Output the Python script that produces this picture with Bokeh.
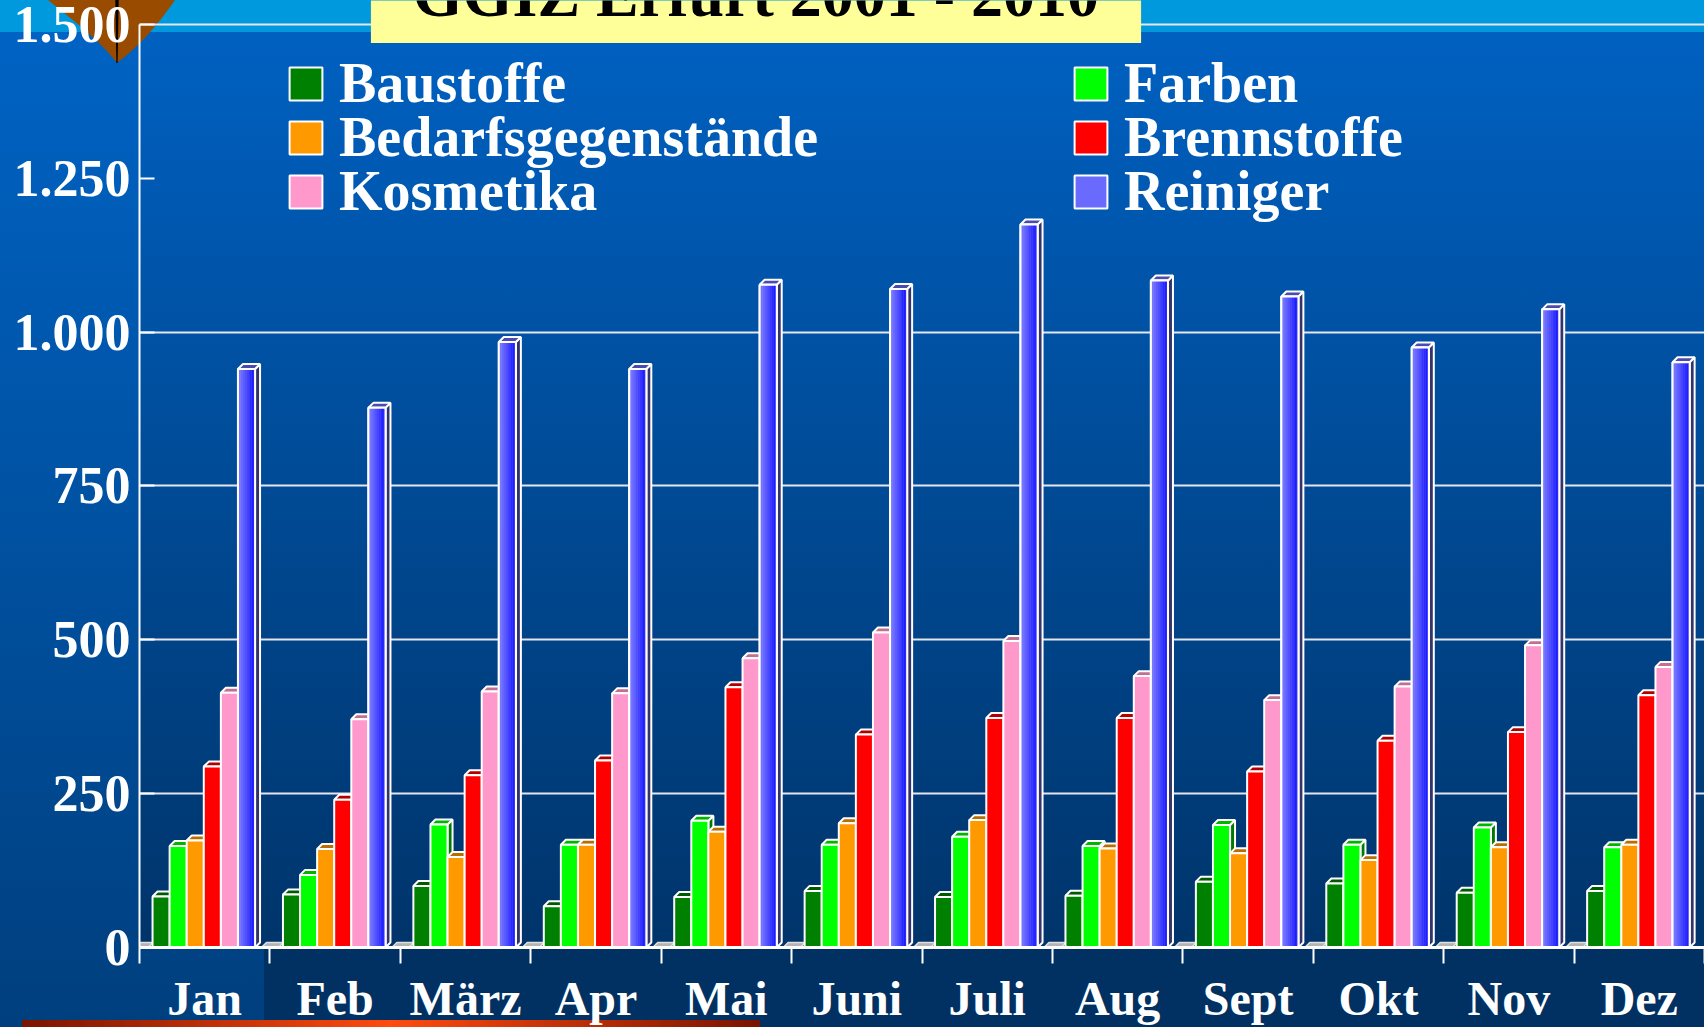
import numpy as np
from urllib.parse import quote
from bokeh.plotting import figure
from bokeh.models import Range1d, FixedTicker, Legend, LegendItem, Label
from bokeh.embed import file_html
from bokeh.resources import INLINE

# ---------------- data ----------------
months = ["Jan", "Feb", "März", "Apr", "Mai", "Juni", "Juli", "Aug", "Sept", "Okt", "Nov", "Dez"]
baustoffe = [83, 86, 100, 67, 82, 92, 82, 84, 107, 104, 89, 92]
farben = [165, 118, 200, 167, 206, 167, 180, 165, 199, 167, 195, 163]
bedarfsgegenstaende = [174, 160, 147, 167, 188, 202, 207, 161, 153, 142, 163, 167]
brennstoffe = [294, 240, 280, 304, 423, 346, 373, 373, 286, 336, 350, 410]
kosmetika = [414, 371, 416, 413, 470, 512, 498, 441, 402, 424, 491, 456]
reiniger = [940, 877, 984, 940, 1077, 1070, 1175, 1084, 1058, 975, 1037, 951]
leer = [0, 0, 0, 0, 0, 0, 0, 0, 0, 0, 0, 0]   # flat grey (empty) series at each month start

series_names = ["Baustoffe", "Farben", "Bedarfsgegenstände", "Brennstoffe", "Kosmetika", "Reiniger"]
series_values = [baustoffe, farben, bedarfsgegenstaende, brennstoffe, kosmetika, reiniger]

y_ticks = [0, 250, 500, 750, 1000, 1250, 1500]
y_tick_labels = ["0", "250", "500", "750", "1.000", "1.250", "1.500"]
y_grid = [250, 500, 750, 1000, 1500]
y_max = 1500
title_text = "GGIZ Erfurt 2001 - 2010"

# ---------------- styles ----------------
front_colors = ["#008000", "#00FF00", "#FF9900", "#FF0000", "#FF99CC", "#6A6AFF"]
top_colors = ["#005A00", "#00B400", "#B86E00", "#B00000", "#C07090", "#4A4AB0"]
side_colors = ["#004400", "#007A00", "#8A5200", "#800000", "#905070", "#34346A"]
FONT = "Liberation Serif"

W, H = 1704, 1027
L, B = 139, 78            # left border, bottom border (frame starts at canvas top)
TOP_LINE = 24             # pixel row of the y_max grid line
FW, FH = W - L, H - B
NG = len(months)
GPX = FW / NG                          # pixels per month group
PPU = (FH - TOP_LINE) / y_max          # pixels per value unit
Y_END = y_max + TOP_LINE / PPU
DX = 5.0 / GPX                          # 3D depth in x (data units)
DY = 5.0 / PPU                          # 3D depth in y (data units)
OFF, BW = 0.10, 0.131                   # bar start offset in a group, bar width

p = figure(width=W, height=H, x_range=Range1d(0, NG), y_range=Range1d(0, Y_END),
           output_backend="svg", toolbar_location=None,
           min_border_left=L, min_border_right=0, min_border_top=0, min_border_bottom=B)
p.border_fill_color = None
p.background_fill_color = None
p.outline_line_color = None

svg = (f"<svg xmlns='http://www.w3.org/2000/svg' width='{W}' height='{H}'>"
       "<path d='M48,0 L175,0 C160,22 140,46 117,63 C100,40 70,18 48,0 Z' fill='#994C00'/>"
       "<path d='M115.3,0 L118.7,0 L117.6,63 L116.4,63 Z' fill='#000000'/></svg>")
uri = "data:image/svg+xml," + quote(svg)
bg = ", ".join([
    f'url("{uri}") 0 0 / {W}px {H}px no-repeat',
    "linear-gradient(to right, #7A1400, #FF4A10 50%, #7A1400) 22px 1020px / 738px 7px no-repeat",
    "linear-gradient(#0099DD, #0099DD) 0 0 / 100% 32px no-repeat",
    f"linear-gradient(to bottom, #0062C4, #00346A) {L}px 0 / {FW}px {FH}px no-repeat",
    f"linear-gradient(#003162, #003162) 264px {FH}px / {W - 264}px {B}px no-repeat",
    "linear-gradient(to bottom, #0064C6, #003F7E)",
])
p.styles = {"background": bg}

# ---------------- axes ----------------
xa = p.xaxis[0]
xa.ticker = FixedTicker(ticks=[g + 0.5 for g in range(NG)], minor_ticks=list(range(NG + 1)))
xa.major_label_overrides = {g + 0.5: m for g, m in enumerate(months)}
xa.major_tick_out = 0
xa.major_tick_in = 0
xa.minor_tick_out = 16
xa.minor_tick_in = 0
xa.minor_tick_line_color = "white"
xa.minor_tick_line_width = 2
xa.axis_line_color = "white"
xa.axis_line_width = 3
xa.major_label_text_font = FONT
xa.major_label_text_font_style = "bold"
xa.major_label_text_font_size = "48px"
xa.major_label_text_line_height = 1.0
xa.major_label_text_color = "white"
xa.major_label_standoff = 8

ya = p.yaxis[0]
ya.ticker = FixedTicker(ticks=y_ticks)
ya.bounds = (0, y_max)
ya.major_label_overrides = {t: s for t, s in zip(y_ticks, y_tick_labels)}
ya.major_tick_in = 15
ya.major_tick_out = 0
ya.major_tick_line_color = "white"
ya.major_tick_line_width = 2
ya.minor_tick_line_color = None
ya.axis_line_color = "white"
ya.axis_line_width = 2
ya.major_label_text_font = FONT
ya.major_label_text_font_style = "bold"
ya.major_label_text_font_size = "52px"
ya.major_label_text_line_height = 1.0
ya.major_label_text_color = "white"
ya.major_label_standoff = 9

p.xgrid.visible = False
p.ygrid.ticker = FixedTicker(ticks=y_grid)
p.ygrid.grid_line_color = "#E6E6F0"
p.ygrid.grid_line_width = 2

# ---------------- bars ----------------
groups = np.arange(NG, dtype=float)


def faces(left, right, vals):
    tops_x = [[l, l + DX, r + DX, r] for l, r in zip(left, right)]
    tops_y = [[v, v + DY, v + DY, v] for v in vals]
    side_x = [[r, r + DX, r + DX, r] for r in right]
    side_y = [[0, DY, v + DY, v] for v in vals]
    return tops_x, tops_y, side_x, side_y


# grey flat slab at the start of every month
lv = np.array(leer, dtype=float)
ll = groups - 0.065
lr = ll + BW
tx, ty, sx, sy = faces(ll, lr, lv)
p.patches(tx, ty, fill_color="#B4B4B4", line_color="#E0E0E0", line_width=1.5)
p.quad(left=ll, right=lr, bottom=lv, top=lv + 1.5, fill_color="#808080", line_color="#D0D0D0", line_width=1)

fronts = []
for i, (name, vals) in enumerate(zip(series_names, series_values)):
    v = np.array(vals, dtype=float)
    left = groups + OFF + i * BW
    right = left + BW
    tx, ty, sx, sy = faces(left, right, v)
    p.patches(sx, sy, fill_color=side_colors[i], line_color="white", line_width=2)
    p.patches(tx, ty, fill_color=top_colors[i], line_color="white", line_width=2)
    fr = p.quad(left=left, right=right, bottom=0, top=v, fill_color=front_colors[i],
                line_color="white", line_width=2)
    fronts.append(fr)
    if name == "Reiniger":
        n = 10
        c0 = np.array([0x82, 0x82, 0xFF], dtype=float)
        c1 = np.array([0x12, 0x12, 0xFF], dtype=float)
        for k in range(n):
            c = c0 + (c1 - c0) * k / (n - 1)
            col = "#%02X%02X%02X" % tuple(int(round(x)) for x in c)
            p.quad(left=left + BW * k / n, right=left + BW * (k + 1) / n, bottom=0, top=v,
                   fill_color=col, line_color=None)
        p.quad(left=left, right=right, bottom=0, top=v, fill_color=None,
               line_color="white", line_width=2)

# ---------------- legend (two columns, three rows) ----------------
ITEM_H = 64                      # measured height of one legend row
ROW_CENTERS = [85, 139, 193]     # pixel rows of the legend entries
COL_X = [146, 931]               # legend column offsets from the frame's left edge
legend_order = [[0, 2, 4], [1, 3, 5]]

for col, idx in enumerate(legend_order):
    for row, i in enumerate(idx):
        top = ROW_CENTERS[row] - ITEM_H / 2
        leg = Legend(items=[LegendItem(label=series_names[i], renderers=[fronts[i]])],
                     location=(COL_X[col], FH - top - ITEM_H), orientation="vertical",
                     glyph_width=41, glyph_height=41, label_standoff=13, spacing=0,
                     padding=0, margin=0,
                     label_text_font=FONT, label_text_font_style="bold",
                     label_text_font_size="56px", label_text_line_height=1.0,
                     label_text_color="white",
                     background_fill_alpha=0, border_line_alpha=0)
        p.add_layout(leg)

# ---------------- title ----------------
title = Label(x=(755.5 - L) / GPX, y=Y_END + 4.5 / PPU, x_units="data", y_units="data",
              text=title_text, text_align="center", text_baseline="alphabetic",
              text_font=FONT, text_font_style="bold", text_font_size="64px",
              text_line_height=1.0, text_color="black",
              background_fill_color="#FFFF99", padding=(42, 42, 10, 13))
p.add_layout(title)

open("out.html", "w").write(file_html(p, INLINE))
